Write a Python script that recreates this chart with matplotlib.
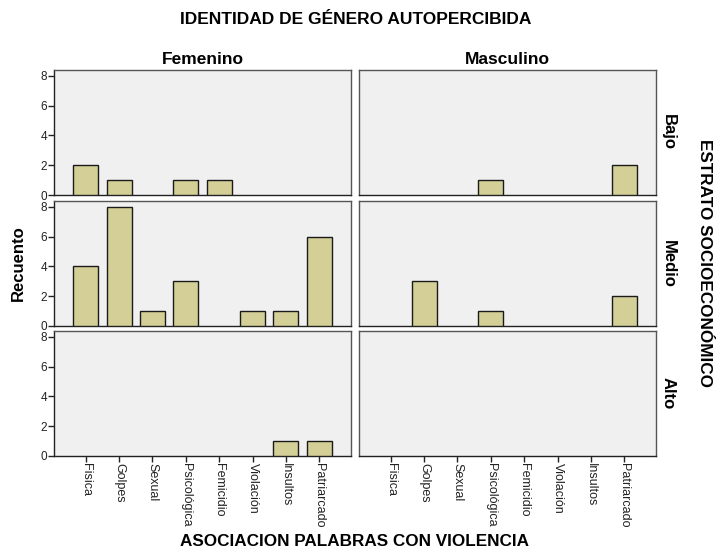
import matplotlib
matplotlib.use("Agg")
import matplotlib.pyplot as plt
from matplotlib import font_manager
import numpy as np

plt.rcParams['font.family'] = ['Liberation Sans', 'DejaVu Sans']
names = {f.name for f in font_manager.fontManager.ttflist}
narrow = 'Liberation Sans Narrow' if 'Liberation Sans Narrow' in names else 'Liberation Sans'

categories = ["Fisica", "Golpes", "Sexual", "Psicológica", "Femicidio", "Violación", "Insultos", "Patriarcado"]
genders = ["Femenino", "Masculino"]
strata = ["Bajo", "Medio", "Alto"]

fem_bajo = [2, 1, 0, 1, 1, 0, 0, 0]
fem_medio = [4, 8, 1, 3, 0, 1, 1, 6]
fem_alto = [0, 0, 0, 0, 0, 0, 1, 1]
mas_bajo = [0, 0, 0, 1, 0, 0, 0, 2]
mas_medio = [0, 3, 0, 1, 0, 0, 0, 2]
mas_alto = [0, 0, 0, 0, 0, 0, 0, 0]

data = {
    ("Femenino", "Bajo"): fem_bajo, ("Femenino", "Medio"): fem_medio, ("Femenino", "Alto"): fem_alto,
    ("Masculino", "Bajo"): mas_bajo, ("Masculino", "Medio"): mas_medio, ("Masculino", "Alto"): mas_alto,
}

W, H = 716, 551
fig = plt.figure(figsize=(W / 100, H / 100), dpi=100)

col_left = [54, 359]
col_width = 297
row_top = [70, 201, 331]
row_height = 125

bar_color = "#d3cf97"
bg = "#f0f0f0"

x = np.arange(len(categories))
for ci, g in enumerate(genders):
    for ri, s in enumerate(strata):
        l = col_left[ci] / W
        b = 1 - (row_top[ri] + row_height) / H
        ax = fig.add_axes([l, b, col_width / W, row_height / H])
        ax.set_facecolor(bg)
        vals = np.array(data[(g, s)])
        nz = vals > 0
        ax.bar(x[nz], vals[nz], width=0.75, color=bar_color, edgecolor="#1a1a1a", linewidth=1.0, zorder=3)
        ax.set_xlim(-0.95, 7.95)
        ax.set_ylim(0, 8.4)
        for sp in ax.spines.values():
            sp.set_color("#555555")
            sp.set_linewidth(1.0)
        if ci == 0:
            ax.spines['left'].set_color("#222222")
        ax.spines['bottom'].set_color("#222222")
        ax.set_yticks([0, 2, 4, 6, 8])
        ax.set_xticks(x)
        ax.tick_params(axis='both', direction='out', length=4, width=1, colors="#222222", labelsize=8.5)
        if ci == 0:
            ax.set_yticklabels([str(v) for v in [0, 2, 4, 6, 8]], fontsize=8.5)
            ax.tick_params(axis='y', pad=1)
        else:
            ax.tick_params(axis='y', left=False, labelleft=False)
        if ri == 2:
            ax.set_xticklabels(categories, rotation=270, fontsize=9, va='top', ha='center')
            ax.tick_params(axis='x', pad=1)
        else:
            ax.tick_params(axis='x', bottom=False, labelbottom=False)
        if ri == 0:
            ax.set_title(g, fontsize=12.5, fontweight='bold', pad=4, family=[narrow, 'DejaVu Sans'])
        if ci == 1:
            ax.text(1.04, 0.5, s, transform=ax.transAxes, rotation=270, fontsize=12,
                    fontweight='bold', va='center', ha='center', family=[narrow, 'DejaVu Sans'])

fig.text(356 / W, 1 - 20 / H, "IDENTIDAD DE GÉNERO AUTOPERCIBIDA", fontsize=12.5, fontweight='bold',
         ha='center', va='center', family=[narrow, 'DejaVu Sans'])
fig.text(355 / W, 1 - 541 / H, "ASOCIACION PALABRAS CON VIOLENCIA", fontsize=12.3, fontweight='bold',
         ha='center', va='center')
fig.text(18 / W, 1 - 263 / H, "Recuento", fontsize=12, fontweight='bold', rotation=90,
         ha='center', va='center')
fig.text(705 / W, 1 - 263 / H, "ESTRATO SOCIOECONÓMICO", fontsize=12.3, fontweight='bold', rotation=270,
         ha='center', va='center')

fig.savefig("out.png", dpi=100, facecolor="white")
